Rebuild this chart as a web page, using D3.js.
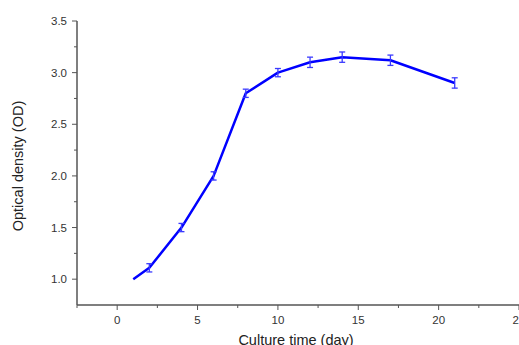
<!DOCTYPE html>
<html>
<head>
<meta charset="utf-8">
<script src="https://cdn.jsdelivr.net/npm/d3@7"></script>
<style>
  body { margin: 0; background: #fff; }
  text { font-family: Arial, "Liberation Sans", sans-serif; }
</style>
</head>
<body>
<div id="chart"></div>
<script>
const days = [1, 2, 4, 6, 8, 10, 12, 14, 17, 21];
const od = [1.0, 1.11, 1.5, 2.0, 2.8, 3.0, 3.1, 3.15, 3.12, 2.9];
const odErr = [0, 0.04, 0.04, 0.04, 0.04, 0.04, 0.05, 0.05, 0.05, 0.05];
const xTicks = [0, 5, 10, 15, 20, 25];
const yTicks = [1.0, 1.5, 2.0, 2.5, 3.0, 3.5];

const width = 519, height = 345;

const xscale = d3.scaleLinear().domain([-2.5, 25]).range([77, 519]);
const yscale = d3.scaleLinear().domain([0.75, 3.5]).range([305, 21]);

const svg = d3.select("#chart").append("svg")
  .attr("width", width).attr("height", height);

const axisColor = "#555";

// x axis
const xAxis = svg.append("g")
  .attr("transform", `translate(0,${yscale.range()[0]})`);
xAxis.append("line")
  .attr("x1", xscale.range()[0]).attr("x2", xscale.range()[1])
  .attr("stroke", axisColor).attr("stroke-width", 1.5);
xAxis.selectAll(".minor")
  .data(d3.range(-2.5, 25, 5))
  .join("line")
  .attr("x1", d => xscale(d)).attr("x2", d => xscale(d))
  .attr("y1", 0).attr("y2", 3)
  .attr("stroke", axisColor);
xAxis.selectAll(".major")
  .data(xTicks)
  .join("line")
  .attr("x1", d => xscale(d)).attr("x2", d => xscale(d))
  .attr("y1", 0).attr("y2", 5)
  .attr("stroke", axisColor);
xAxis.selectAll("text")
  .data(xTicks)
  .join("text")
  .attr("x", d => xscale(d)).attr("y", 19)
  .attr("text-anchor", "middle")
  .attr("font-size", 11.5).attr("fill", "#333")
  .text(d => d);

// y axis
const yAxis = svg.append("g")
  .attr("transform", `translate(${xscale.range()[0]},0)`);
yAxis.append("line")
  .attr("y1", yscale.range()[0]).attr("y2", yscale.range()[1])
  .attr("stroke", axisColor).attr("stroke-width", 1.5);
yAxis.selectAll(".minor")
  .data(d3.range(1.25, 3.5, 0.5))
  .join("line")
  .attr("y1", d => yscale(d)).attr("y2", d => yscale(d))
  .attr("x1", 0).attr("x2", -3)
  .attr("stroke", axisColor);
yAxis.selectAll(".major")
  .data(yTicks)
  .join("line")
  .attr("y1", d => yscale(d)).attr("y2", d => yscale(d))
  .attr("x1", 0).attr("x2", -5)
  .attr("stroke", axisColor);
yAxis.selectAll("text")
  .data(yTicks)
  .join("text")
  .attr("x", -10).attr("y", d => yscale(d) + 4)
  .attr("text-anchor", "end")
  .attr("font-size", 11.5).attr("fill", "#333")
  .text(d => d.toFixed(1));

// titles
svg.append("text")
  .attr("transform", "translate(23,166) rotate(-90)")
  .attr("text-anchor", "middle")
  .attr("font-size", 14.5).attr("fill", "#222")
  .text("Optical density (OD)");
svg.append("text")
  .attr("x", 296).attr("y", 345)
  .attr("text-anchor", "middle")
  .attr("font-size", 14.5).attr("fill", "#222")
  .text("Culture time (day)");

const data = days.map((d, i) => ({x: d, y: od[i], e: odErr[i]}));

// line
svg.append("path")
  .datum(data)
  .attr("fill", "none")
  .attr("stroke", "#0000ff")
  .attr("stroke-width", 2.5)
  .attr("stroke-linejoin", "round")
  .attr("d", d3.line().x(d => xscale(d.x)).y(d => yscale(d.y)));

// error bars
const err = svg.append("g")
  .attr("stroke", "#3a3aff")
  .attr("stroke-width", 1.3);
const withErr = data.filter(d => d.e > 0);
err.selectAll(".v")
  .data(withErr)
  .join("line")
  .attr("x1", d => xscale(d.x)).attr("x2", d => xscale(d.x))
  .attr("y1", d => yscale(d.y - d.e)).attr("y2", d => yscale(d.y + d.e));
err.selectAll(".top")
  .data(withErr)
  .join("line")
  .attr("x1", d => xscale(d.x) - 3).attr("x2", d => xscale(d.x) + 3)
  .attr("y1", d => yscale(d.y + d.e)).attr("y2", d => yscale(d.y + d.e));
err.selectAll(".bot")
  .data(withErr)
  .join("line")
  .attr("x1", d => xscale(d.x) - 3).attr("x2", d => xscale(d.x) + 3)
  .attr("y1", d => yscale(d.y - d.e)).attr("y2", d => yscale(d.y - d.e));
</script>
</body>
</html>
